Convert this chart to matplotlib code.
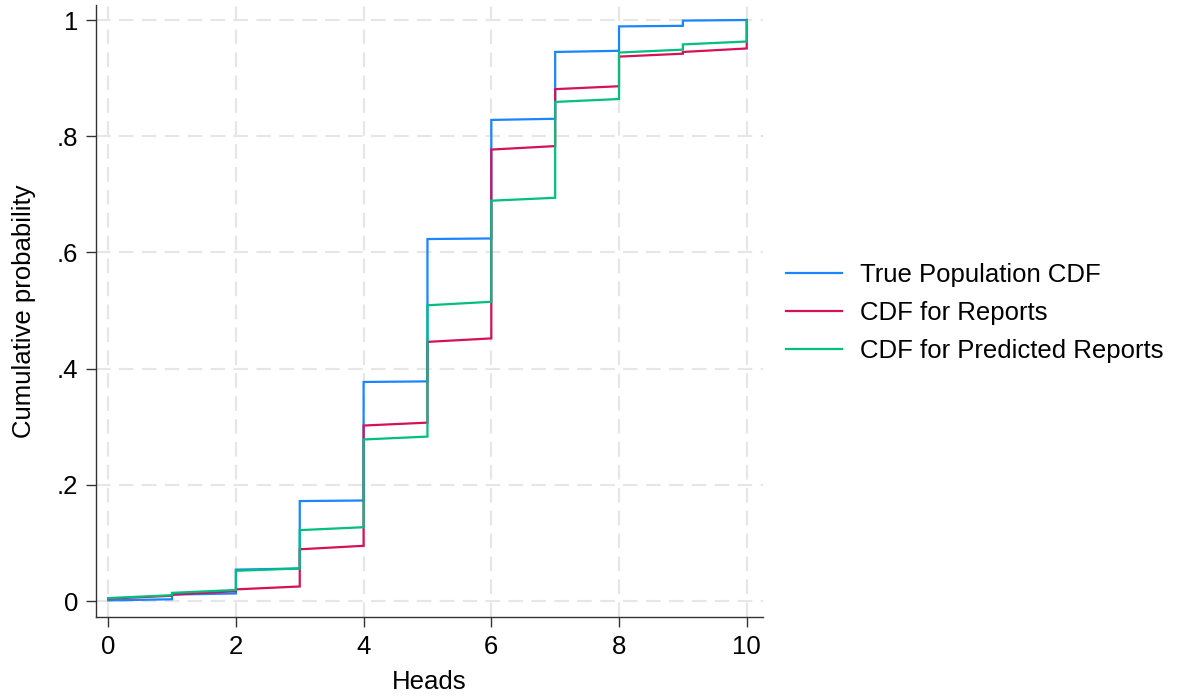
"""
Cumulative distribution of heads: true population vs reports
"""

import matplotlib
matplotlib.use("Agg")
import matplotlib.pyplot as plt

plt.rcParams["font.family"] = ["Liberation Sans", "DejaVu Sans"]

heads = [0, 1, 2, 3, 4, 5, 6, 7, 8, 9, 10]

# value at the left and right end of each interval [k, k+1]
true_start = [0.001, 0.011, 0.054, 0.172, 0.377, 0.623, 0.828, 0.945, 0.989, 0.999]
true_end = [0.003, 0.013, 0.056, 0.173, 0.378, 0.624, 0.830, 0.947, 0.990, 1.000]

rep_start = [0.004, 0.011, 0.020, 0.089, 0.302, 0.446, 0.777, 0.881, 0.937, 0.945]
rep_end = [0.009, 0.017, 0.025, 0.095, 0.307, 0.452, 0.783, 0.886, 0.942, 0.951]

pred_start = [0.005, 0.014, 0.052, 0.122, 0.278, 0.509, 0.689, 0.859, 0.944, 0.958]
pred_end = [0.010, 0.019, 0.056, 0.127, 0.283, 0.515, 0.694, 0.864, 0.949, 0.963]

final_value = 1.0

labels = ["True Population CDF", "CDF for Reports", "CDF for Predicted Reports"]
colors = ["#1a85ff", "#d41159", "#00bf7f"]


def step_path(starts, ends):
    xs, ys = [], []
    for k in range(len(starts)):
        xs += [heads[k], heads[k + 1]]
        ys += [starts[k], ends[k]]
    xs.append(heads[-1])
    ys.append(final_value)
    return xs, ys


fig = plt.figure(figsize=(11.77, 7), dpi=100)
ax = fig.add_axes([0.0816, 0.1186, 0.648 - 0.0816, 0.993 - 0.1186])

series = [(true_start, true_end), (rep_start, rep_end), (pred_start, pred_end)]
for (s, e), lab, col in zip(series, labels, colors):
    xs, ys = step_path(s, e)
    ax.plot(xs, ys, color=col, lw=1.6, label=lab, solid_joinstyle="miter")

ax.set_xlim(-0.19, 10.25)
ax.set_ylim(-0.0275, 1.026)

yt = [0, 0.2, 0.4, 0.6, 0.8, 1.0]
ax.set_yticks(yt)
ax.set_yticklabels(["0", ".2", ".4", ".6", ".8", "1"])
ax.set_xticks([0, 2, 4, 6, 8, 10])

ax.grid(True, color="#e6e6e6", linestyle=(0, (7, 4)), lw=1.5)
ax.set_axisbelow(True)

for side in ["top", "right"]:
    ax.spines[side].set_visible(False)
for side in ["left", "bottom"]:
    ax.spines[side].set_color("#333333")
    ax.spines[side].set_linewidth(1.0)

ax.tick_params(axis="both", direction="out", length=7, width=1.0,
               color="#333333", labelsize=18.5, pad=6)
ax.set_xlabel("Heads", fontsize=18.5, labelpad=8)
ax.set_ylabel("Cumulative probability", fontsize=18.5, labelpad=15)

fig.legend(loc="center left", bbox_to_anchor=(0.648, 0.553), frameon=False,
           fontsize=18.5, handlelength=2.2, handletextpad=0.7, labelspacing=0.53)

plt.savefig("out.png", dpi=100)
